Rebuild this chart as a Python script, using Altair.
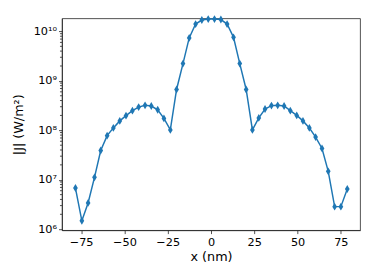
import altair as alt
import pandas as pd

x_nm = [-78.3, -74.6, -71.0, -67.3, -63.7, -60.0, -56.4, -52.7, -49.1, -45.4, -41.8,
        -38.1, -34.5, -30.8, -27.2, -23.5, -19.9, -16.2, -12.6, -8.9, -5.3, -1.6,
        2.0, 5.7, 9.3, 13.0, 16.6, 20.3, 23.9, 27.6, 31.2, 34.9, 38.5, 42.2,
        45.8, 49.5, 53.1, 56.8, 60.4, 64.1, 67.7, 71.4, 75.0, 78.7]
J = [6.8e6, 1.48e6, 3.4e6, 1.12e7, 3.9e7, 7.8e7, 1.12e8, 1.55e8, 1.98e8, 2.5e8, 2.95e8,
     3.2e8, 3.1e8, 2.6e8, 1.74e8, 1.02e8, 6.7e8, 2.24e9, 7.4e9, 1.41e10, 1.7e10, 1.78e10,
     1.78e10, 1.74e10, 1.41e10, 7.6e9, 2.24e9, 6.7e8, 1.02e8, 1.78e8, 2.7e8, 3.16e8,
     3.2e8, 3.1e8, 2.5e8, 2.0e8, 1.55e8, 1.12e8, 7.3e7, 4.3e7, 1.48e7, 2.86e6, 2.86e6, 6.5e6]

x_ticks = [-75, -50, -25, 0, 25, 50, 75]
y_ticks = [1e6, 1e7, 1e8, 1e9, 1e10]
y_minor = [m * 10 ** e for e in range(6, 11) for m in range(2, 10) if m * 10 ** e < 1.84e10]

df = pd.DataFrame({"x": x_nm, "J": J})
minor_df = pd.DataFrame({"v": y_minor})

FONT = "DejaVu Sans"
BLUE = "#1f77b4"

xscale = alt.Scale(domain=[-86.1, 86.1], nice=False, zero=False)
yscale = alt.Scale(type="log", domain=[9.55e5, 1.84e10], nice=False)

label_expr = ("datum.value >= 1e10 ? '10¹⁰' : datum.value >= 1e9 ? '10⁹' : "
              "datum.value >= 1e8 ? '10⁸' : datum.value >= 1e7 ? '10⁷' : '10⁶'")

base = alt.Chart(df)

line = base.mark_line(color=BLUE, strokeWidth=1.5).encode(
    x=alt.X("x:Q", scale=xscale,
            axis=alt.Axis(values=x_ticks, title="x (nm)", grid=False, tickSize=3.5,
                          labelPadding=3, titlePadding=3)),
    y=alt.Y("J:Q", scale=yscale,
            axis=alt.Axis(values=y_ticks, labelExpr=label_expr, title="|J| (W/m²)",
                          grid=False, tickSize=3.5, labelPadding=2, titlePadding=8)),
)

pts = base.mark_point(
    shape="M0,-1L0.6,0L0,1L-0.6,0Z", filled=True, color=BLUE, opacity=1, size=64
).encode(x="x:Q", y="J:Q")

minor = alt.Chart(minor_df).mark_rule(color="black", strokeWidth=0.7).encode(
    y=alt.Y("v:Q", scale=yscale),
    x=alt.value(0),
    x2=alt.value(-2),
)

chart = alt.layer(line, pts, minor).properties(
    width=304, height=216,
    autosize=alt.AutoSizeParams(type="none"),
    padding={"left": 55, "top": 8, "right": 5, "bottom": 35},
).configure_view(
    stroke="#222222", strokeWidth=0.8
).configure_axis(
    domainColor="#222222", tickColor="#222222", domainWidth=0.8, tickWidth=0.8,
    labelFont=FONT, titleFont=FONT, labelFontSize=11.5, titleFontSize=13,
    labelColor="black", titleColor="black", titleFontWeight="normal",
)

chart.save("out.html", embed_options={"renderer": "svg", "actions": False})
